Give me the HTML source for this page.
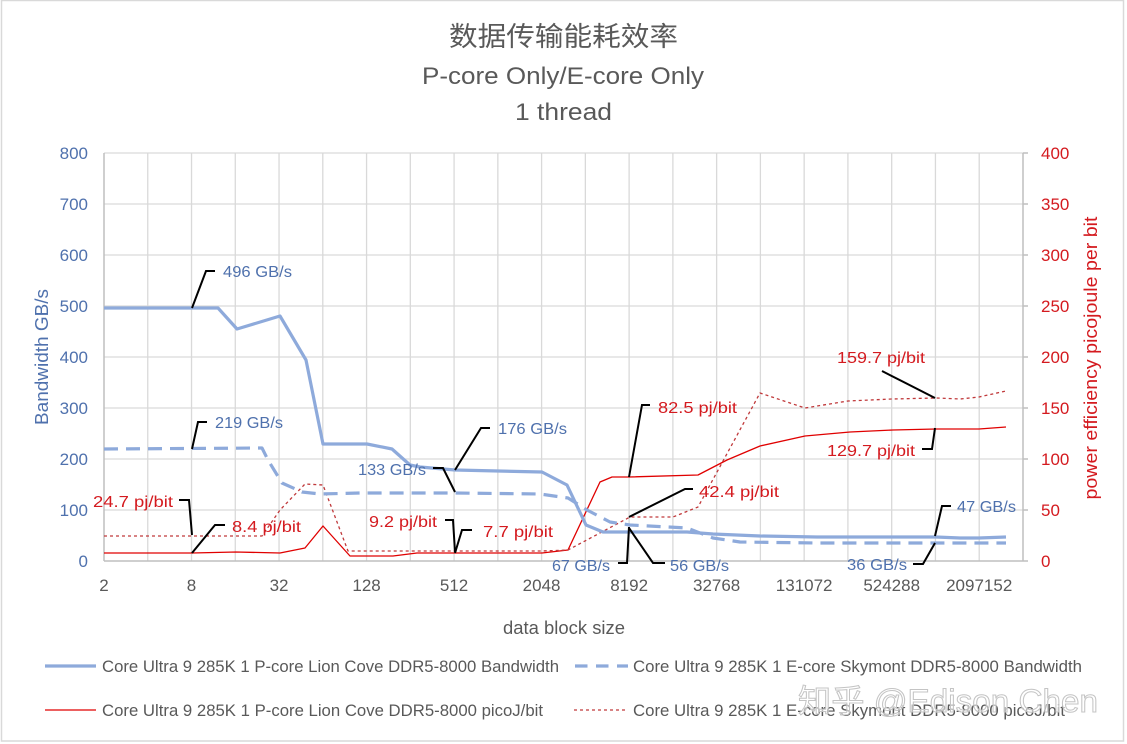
<!DOCTYPE html>
<html>
<head>
<meta charset="utf-8">
<style>
html,body{margin:0;padding:0;background:#fff;}
svg{display:block;}
text{font-family:"Liberation Sans","Noto Sans CJK SC",sans-serif;}
</style>
</head>
<body>
<svg width="1127" height="744" viewBox="0 0 1127 744" xmlns="http://www.w3.org/2000/svg">
<rect x="0" y="0" width="1127" height="744" fill="#fff"/>
<rect x="1.5" y="0.5" width="1122" height="740.5" fill="none" stroke="#d9d9d9" stroke-width="1.5"/>

<!-- titles -->
<text x="563.5" y="46" font-size="27" fill="#595959" text-anchor="middle" textLength="229" lengthAdjust="spacingAndGlyphs" style="font-family:'Noto Sans CJK SC','WenQuanYi Zen Hei',sans-serif">数据传输能耗效率</text>
<text x="563" y="84" font-size="24" fill="#595959" text-anchor="middle" textLength="282" lengthAdjust="spacingAndGlyphs">P-core Only/E-core Only</text>
<text x="563.5" y="120" font-size="24" fill="#595959" text-anchor="middle" textLength="97" lengthAdjust="spacingAndGlyphs">1 thread</text>

<!-- horizontal gridlines -->
<g stroke="#d9d9d9" stroke-width="1.3">
<line x1="104" y1="153" x2="1023" y2="153"/>
<line x1="104" y1="204" x2="1023" y2="204"/>
<line x1="104" y1="255" x2="1023" y2="255"/>
<line x1="104" y1="306" x2="1023" y2="306"/>
<line x1="104" y1="357" x2="1023" y2="357"/>
<line x1="104" y1="408" x2="1023" y2="408"/>
<line x1="104" y1="459" x2="1023" y2="459"/>
<line x1="104" y1="510" x2="1023" y2="510"/>
</g>
<!-- vertical gridlines -->
<g stroke="#d9d9d9" stroke-width="1.3">
<line x1="147.76" y1="153" x2="147.76" y2="561"/>
<line x1="191.52" y1="153" x2="191.52" y2="561"/>
<line x1="235.28" y1="153" x2="235.28" y2="561"/>
<line x1="279.04" y1="153" x2="279.04" y2="561"/>
<line x1="322.8" y1="153" x2="322.8" y2="561"/>
<line x1="366.56" y1="153" x2="366.56" y2="561"/>
<line x1="410.32" y1="153" x2="410.32" y2="561"/>
<line x1="454.08" y1="153" x2="454.08" y2="561"/>
<line x1="497.84" y1="153" x2="497.84" y2="561"/>
<line x1="541.6" y1="153" x2="541.6" y2="561"/>
<line x1="585.36" y1="153" x2="585.36" y2="561"/>
<line x1="629.12" y1="153" x2="629.12" y2="561"/>
<line x1="672.88" y1="153" x2="672.88" y2="561"/>
<line x1="716.64" y1="153" x2="716.64" y2="561"/>
<line x1="760.4" y1="153" x2="760.4" y2="561"/>
<line x1="804.16" y1="153" x2="804.16" y2="561"/>
<line x1="847.92" y1="153" x2="847.92" y2="561"/>
<line x1="891.68" y1="153" x2="891.68" y2="561"/>
<line x1="935.44" y1="153" x2="935.44" y2="561"/>
<line x1="979.2" y1="153" x2="979.2" y2="561"/>
</g>
<!-- axes -->
<g stroke="#bfbfbf" stroke-width="1.5">
<line x1="104" y1="153" x2="104" y2="561"/>
<line x1="1023" y1="153" x2="1023" y2="561"/>
<line x1="104" y1="561" x2="1023" y2="561"/>
<line x1="1023" y1="153" x2="1028" y2="153"/>
<line x1="1023" y1="204" x2="1028" y2="204"/>
<line x1="1023" y1="255" x2="1028" y2="255"/>
<line x1="1023" y1="306" x2="1028" y2="306"/>
<line x1="1023" y1="357" x2="1028" y2="357"/>
<line x1="1023" y1="408" x2="1028" y2="408"/>
<line x1="1023" y1="459" x2="1028" y2="459"/>
<line x1="1023" y1="510" x2="1028" y2="510"/>
<line x1="1023" y1="561" x2="1028" y2="561"/>
</g>

<!-- left tick labels -->
<g font-size="17" fill="#4f71ad" text-anchor="end">
<text x="88" y="159">800</text>
<text x="88" y="210">700</text>
<text x="88" y="261">600</text>
<text x="88" y="312">500</text>
<text x="88" y="363">400</text>
<text x="88" y="414">300</text>
<text x="88" y="465">200</text>
<text x="88" y="516">100</text>
<text x="88" y="567">0</text>
</g>
<!-- right tick labels -->
<g font-size="17" fill="#d41a1f" text-anchor="start">
<text x="1041" y="159">400</text>
<text x="1041" y="210">350</text>
<text x="1041" y="261">300</text>
<text x="1041" y="312">250</text>
<text x="1041" y="363">200</text>
<text x="1041" y="414">150</text>
<text x="1041" y="465">100</text>
<text x="1041" y="516">50</text>
<text x="1041" y="567">0</text>
</g>
<!-- x tick labels -->
<g font-size="17" fill="#595959" text-anchor="middle">
<text x="104" y="591">2</text>
<text x="191.52" y="591">8</text>
<text x="279.04" y="591">32</text>
<text x="366.56" y="591">128</text>
<text x="454.08" y="591">512</text>
<text x="541.6" y="591">2048</text>
<text x="629.12" y="591">8192</text>
<text x="716.64" y="591">32768</text>
<text x="804.16" y="591">131072</text>
<text x="891.68" y="591">524288</text>
<text x="979.2" y="591">2097152</text>
</g>

<!-- axis titles -->
<text transform="translate(48,357) rotate(-90)" font-size="18" fill="#4f71ad" text-anchor="middle" textLength="136" lengthAdjust="spacingAndGlyphs">Bandwidth GB/s</text>
<text transform="translate(1097,358) rotate(-90)" font-size="18" fill="#d41a1f" text-anchor="middle" textLength="283" lengthAdjust="spacingAndGlyphs">power efficiency picojoule per bit</text>
<text x="564" y="634" font-size="18" fill="#595959" text-anchor="middle" textLength="122" lengthAdjust="spacingAndGlyphs">data block size</text>

<!-- series -->
<polyline fill="none" stroke="#e00000" stroke-width="1.3" stroke-linejoin="round"
points="104,553 192,553 236,552 280,553 305,548 323,526 350,556 393,556 417,553 542,553 568,550 600,482 612,477 629,477 698,475 727,460 760,446 805,436 850,432 893,430 936,429 979,429 1006,427"/>
<polyline fill="none" stroke="#c0393b" stroke-width="1.3" stroke-dasharray="3,3" stroke-linejoin="round"
points="104,536 262,536 280,510 305,484 323,485 348,551 455,551 542,551 568,550 630,517 673,517 698,507 760,393 805,408 848,401 892,399 936,398 960,399 979,397 1006,391"/>
<polyline fill="none" stroke="#8eaadb" stroke-width="3.2" stroke-linejoin="round"
points="104,308 218,308 237,329 280,316 306,360 323,444 367,444 392,449 410,465 420,467 455,470 542,472 567,485 586,525 603,532 687,532 713,534 760,536 817,537 936,537 960,538 979,538 1006,537"/>
<polyline fill="none" stroke="#8eaadb" stroke-width="3.2" stroke-dasharray="14,8" stroke-linejoin="round"
points="104,449 262,448 268,460 282,483 302,492 320,494 360,493 455,493 540,494 568,498 587,510 610,522 630,525 687,528 713,538 740,542 817,543 1006,543"/>

<!-- leader lines -->
<g fill="none" stroke="#000" stroke-width="2">
<polyline points="192,308 206,271 215,271"/>
<polyline points="192,449 198,422 207,422"/>
<polyline points="179,500 189,500 192,535"/>
<polyline points="192,553 215,525 225,525"/>
<polyline points="433,468 443,468 455,492"/>
<polyline points="455,470 481,428 490,428"/>
<polyline points="445,520 453,520 455,552"/>
<polyline points="455,553 462,530 472,530"/>
<polyline points="629,477 642,405 650,405"/>
<polyline points="629,517 685,489 693,489"/>
<polyline points="618,563 627,563 629,527"/>
<polyline points="629,528 653,563 665,563"/>
<polyline points="882,371 935,398"/>
<polyline points="922,449 932,449 935,428"/>
<polyline points="935,536 942,506 951,506"/>
<polyline points="913,564 923,564 935,543"/>
</g>

<!-- data labels -->
<g font-size="16" fill="#4f71ad">
<text x="223" y="277" textLength="69" lengthAdjust="spacingAndGlyphs">496 GB/s</text>
<text x="215" y="428" textLength="68" lengthAdjust="spacingAndGlyphs">219 GB/s</text>
<text x="358" y="475" textLength="68" lengthAdjust="spacingAndGlyphs">133 GB/s</text>
<text x="498" y="434" textLength="69" lengthAdjust="spacingAndGlyphs">176 GB/s</text>
<text x="552" y="571" textLength="58" lengthAdjust="spacingAndGlyphs">67 GB/s</text>
<text x="670" y="571" textLength="59" lengthAdjust="spacingAndGlyphs">56 GB/s</text>
<text x="957" y="512" textLength="59" lengthAdjust="spacingAndGlyphs">47 GB/s</text>
<text x="847" y="570" textLength="60" lengthAdjust="spacingAndGlyphs">36 GB/s</text>
</g>
<g font-size="16" fill="#d41a1f">
<text x="93" y="507" textLength="80" lengthAdjust="spacingAndGlyphs">24.7 pj/bit</text>
<text x="232" y="532" textLength="69" lengthAdjust="spacingAndGlyphs">8.4 pj/bit</text>
<text x="369" y="527" textLength="68" lengthAdjust="spacingAndGlyphs">9.2 pj/bit</text>
<text x="483" y="537" textLength="70" lengthAdjust="spacingAndGlyphs">7.7 pj/bit</text>
<text x="658" y="413" textLength="79" lengthAdjust="spacingAndGlyphs">82.5 pj/bit</text>
<text x="699" y="497" textLength="80" lengthAdjust="spacingAndGlyphs">42.4 pj/bit</text>
<text x="837" y="363" textLength="88" lengthAdjust="spacingAndGlyphs">159.7 pj/bit</text>
<text x="827" y="456" textLength="88" lengthAdjust="spacingAndGlyphs">129.7 pj/bit</text>
</g>

<!-- legend -->
<line x1="45" y1="666" x2="96" y2="666" stroke="#8eaadb" stroke-width="3.2"/>
<line x1="575" y1="666" x2="628" y2="666" stroke="#8eaadb" stroke-width="3.2" stroke-dasharray="12.5,8.5"/>
<line x1="45" y1="710" x2="96" y2="710" stroke="#e00000" stroke-width="1.3"/>
<line x1="574" y1="710" x2="628" y2="710" stroke="#c0393b" stroke-width="1.3" stroke-dasharray="3,3"/>
<g font-size="17" fill="#595959">
<text x="102" y="672" textLength="457" lengthAdjust="spacingAndGlyphs">Core Ultra 9 285K 1 P-core Lion Cove DDR5-8000 Bandwidth</text>
<text x="633" y="672" textLength="449" lengthAdjust="spacingAndGlyphs">Core Ultra 9 285K 1 E-core Skymont DDR5-8000 Bandwidth</text>
<text x="102" y="716" textLength="441" lengthAdjust="spacingAndGlyphs">Core Ultra 9 285K 1 P-core Lion Cove DDR5-8000 picoJ/bit</text>
<text x="633" y="716" textLength="432" lengthAdjust="spacingAndGlyphs">Core Ultra 9 285K 1 E-core Skymont DDR5-8000 picoJ/bit</text>
</g>

<!-- watermark -->
<text x="798" y="712" font-size="32" fill="#ffffff" fill-opacity="0.55" stroke="#c4c4c4" stroke-width="1" textLength="300" lengthAdjust="spacingAndGlyphs" style="font-family:'Liberation Sans','Noto Sans CJK SC',sans-serif">知乎 @Edison Chen</text>
</svg>
</body>
</html>
